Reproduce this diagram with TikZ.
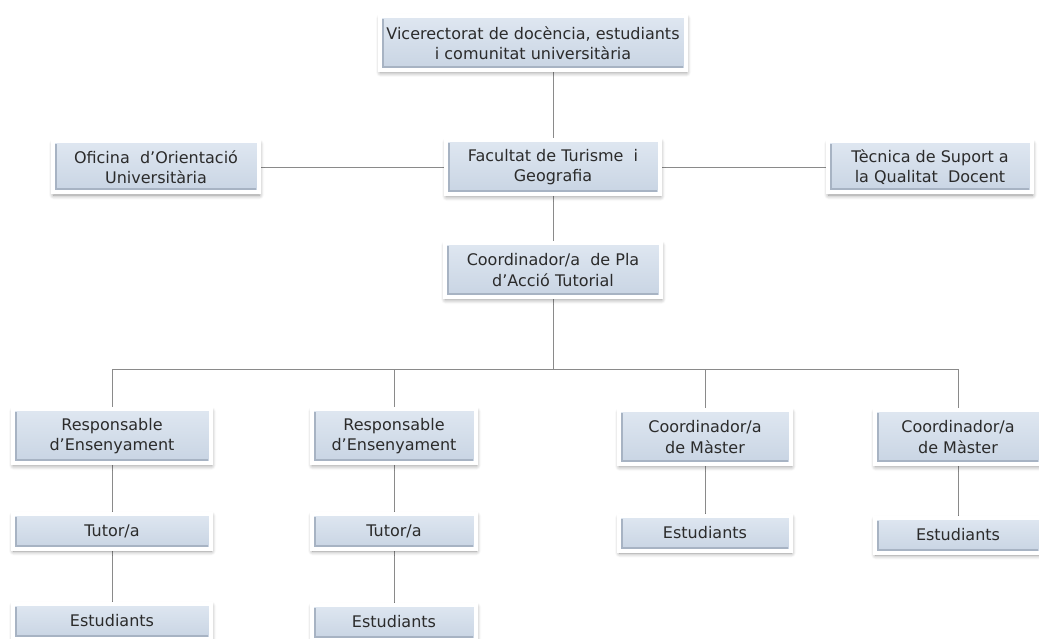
\documentclass[tikz,border=0pt]{standalone}
\usepackage{fontspec}
\setmainfont{DejaVu Sans}
\usepackage{tikz}
\usetikzlibrary{positioning,calc,shadows.blur,backgrounds}
\definecolor{boxtop}{HTML}{DFE7F1}
\definecolor{boxbot}{HTML}{C8D4E3}
\definecolor{boxedge}{HTML}{A7B3C3}
\definecolor{boxtext}{HTML}{2B2B2B}
\definecolor{linkgray}{HTML}{8A8A8A}
\tikzset{
  orgbox/.style={draw=white, line width=4pt, top color=boxtop, bottom color=boxbot, text=boxtext, align=center,
    font=\fontsize{16}{20.5}\selectfont, inner sep=0pt, minimum height=54pt,
    blur shadow={shadow xshift=0.5pt, shadow yshift=-2.5pt, shadow blur radius=4.5pt, shadow blur steps=8, shadow opacity=45},
    path picture={\draw[boxedge, line width=2pt]
      ($(path picture bounding box.north west)+(3pt,-3pt)$) -- ($(path picture bounding box.south west)+(3pt,3pt)$)
      -- ($(path picture bounding box.south east)+(-3pt,3pt)$);}},
  smallbox/.style={orgbox, minimum height=35pt},
  link/.style={draw=linkgray, line width=0.8pt}
}
\begin{document}
\begin{tikzpicture}[x=1pt,y=-1pt]
  \useasboundingbox (0,0) rectangle (1039,639);
  % top levels
  \node[orgbox, minimum width=306pt] (vice) at (533,43) {Vicerectorat de docència, estudiants\\i comunitat universitària};
  \node[orgbox, minimum width=214pt] (fac) at (553,167) {Facultat de Turisme\ \ i\\Geografia};
  \node[orgbox, minimum width=206pt, minimum height=51pt] (ofi) at (156,167) {Oficina\ \ d’Orientació\\Universitària};
  \node[orgbox, minimum width=204pt, minimum height=51pt] (tec) at (930,167) {Tècnica de\ Suport\ a\\la Qualitat\ \ Docent};
  \node[orgbox, minimum width=216pt] (pat) at (553,270) {Coordinador/a\ \ de Pla\\d’Acció Tutorial};
  % branches
  \node[orgbox, minimum width=198pt] (resp1) at (112,436) {Responsable\\d’Ensenyament};
  \node[orgbox, minimum width=164pt] (resp2) at (394,436) {Responsable\\d’Ensenyament};
  \node[orgbox, minimum width=172pt] (mas1) at (705,437) {Coordinador/a\\de Màster};
  \node[orgbox, minimum width=166pt] (mas2) at (958,437) {Coordinador/a\\de Màster};
  \node[smallbox, minimum width=198pt] (tut1) at (112,531) {Tutor/a};
  \node[smallbox, minimum width=164pt] (tut2) at (394,531) {Tutor/a};
  \node[smallbox, minimum width=198pt] (est1) at (112,621) {Estudiants};
  \node[smallbox, minimum width=164pt] (est2) at (394,622) {Estudiants};
  \node[smallbox, minimum width=172pt] (est3) at (705,533) {Estudiants};
  \node[smallbox, minimum width=166pt] (est4) at (958,535) {Estudiants};
  % connectors
  \coordinate (bar) at (553,369);
  \begin{scope}[on background layer]
    \draw[link] (fac.north) -- (fac.north |- vice.south);
    \draw[link] (ofi.east) -- (fac.west);
    \draw[link] (fac.east) -- (tec.west);
    \draw[link] (fac.south) -- (pat.north);
    \draw[link] (pat.south) -- (bar);
    \draw[link] (resp1.north |- bar) -- (mas2.north |- bar);
    \foreach \b in {resp1,resp2,mas1,mas2}
      \draw[link] (\b.north |- bar) -- (\b.north);
    \draw[link] (resp1) -- (tut1);
    \draw[link] (tut1) -- (est1);
    \draw[link] (resp2) -- (tut2);
    \draw[link] (tut2) -- (est2);
    \draw[link] (mas1) -- (est3);
    \draw[link] (mas2) -- (est4);
  \end{scope}
\end{tikzpicture}
\end{document}
